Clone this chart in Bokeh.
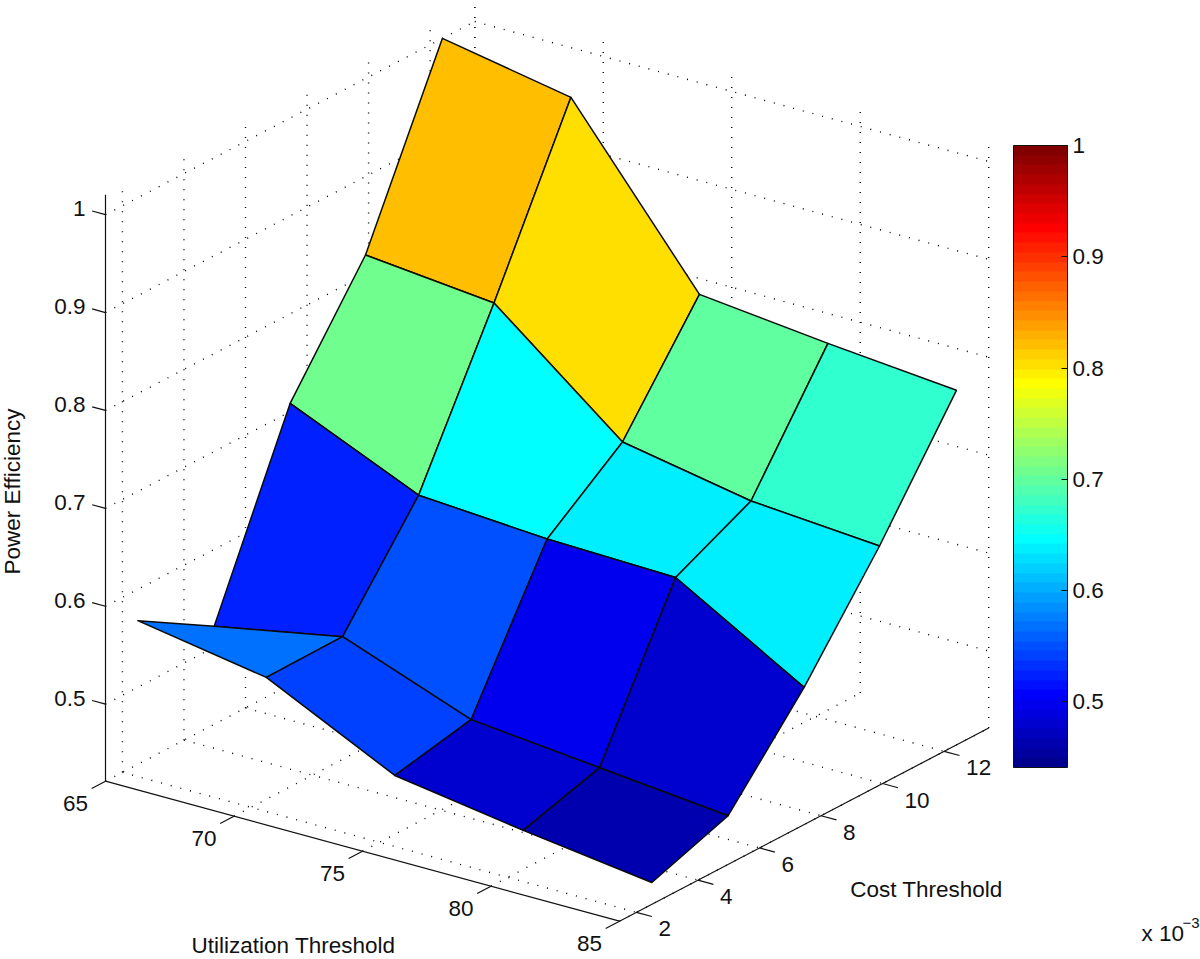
import numpy as np
from bokeh.plotting import figure
from bokeh.embed import file_html
from bokeh.resources import INLINE
from bokeh.core.properties import value
from bokeh.models import ColumnDataSource, ColorBar, LinearColorMapper, FixedTicker

# ---------- data ----------
util_thresholds = [65, 70, 75, 80, 85]
cost_thresholds = [2.5, 4.98, 7.45, 9.9, 12.4]   # x 10^-3
eff_u65 = [0.568, 0.5214, 0.7085, 0.8198, 1.0]
eff_u70 = [0.5458, 0.5466, 0.6505, 0.8065, 0.9755]
eff_u75 = [0.4814, 0.4976, 0.6415, 0.7003, 0.81]
eff_u80 = [0.4610, 0.4843, 0.6380, 0.6758, 0.7957]
eff_u85 = [0.4436, 0.4710, 0.5614, 0.6656, 0.7835]
util_ticks = [65, 70, 75, 80, 85]
cost_ticks = [2, 4, 6, 8, 10, 12]
eff_ticks = [0.5, 0.6, 0.7, 0.8, 0.9, 1.0]
cbar_ticks = [0.5, 0.6, 0.7, 0.8, 0.9, 1.0]

# ---------- view (orthographic projection of the box, page pixels) ----------
U_MIN, U_MAX = 65.0, 85.0
C_MIN, C_MAX = 1.45, 13.45
Z_MIN, Z_MAX = 0.4213, 1.0204
C_LOW, C_HIGH = 0.441, 1.0
X0, Y0 = 105.0, 780.7
UX, UY, CX, CY, ZK = 25.7, 7.0, 30.77, -16.1, 979.0


def px(u, c):
    return X0 + UX * (u - U_MIN) + CX * (c - C_MIN)


def py(u, c, z):
    return Y0 + UY * (u - U_MIN) + CY * (c - C_MIN) - ZK * (z - Z_MIN)


def jet(n=64):
    out = []
    for i in range(1, n + 1):
        t = i / n
        r = min(4 * t - 1.5, -4 * t + 4.5)
        g = min(4 * t - 0.5, -4 * t + 3.5)
        b = min(4 * t + 0.5, -4 * t + 2.5)
        rgb = [int(round(255 * max(0, min(1, k)))) for k in (r, g, b)]
        out.append("#%02x%02x%02x" % tuple(rgb))
    return out


FONT = value("Liberation Sans")
FS = "22.5px"
INK = "#111111"
W, H = 1200, 959

p = figure(width=W, height=H, x_range=(0, W), y_range=(H, 0),
           x_axis_location=None, y_axis_location=None,
           toolbar_location=None, output_backend="svg",
           min_border=0, outline_line_color=None)
p.grid.visible = False

# ---------- dotted grid on floor and two back walls ----------
gx, gy = [], []


def seg(u0, c0, z0, u1, c1, z1):
    gx.append([px(u0, c0), px(u1, c1)])
    gy.append([py(u0, c0, z0), py(u1, c1, z1)])


for u in util_ticks:
    seg(u, C_MIN, Z_MIN, u, C_MAX, Z_MIN)          # floor
    seg(u, C_MAX, Z_MIN, u, C_MAX, Z_MAX)          # back wall vertical
for c in cost_ticks:
    seg(U_MIN, c, Z_MIN, U_MAX, c, Z_MIN)          # floor
    seg(U_MIN, c, Z_MIN, U_MIN, c, Z_MAX)          # left wall vertical
seg(U_MIN, C_MAX, Z_MIN, U_MIN, C_MAX, Z_MAX)
for z in eff_ticks:
    seg(U_MIN, C_MIN, z, U_MIN, C_MAX, z)
    seg(U_MIN, C_MAX, z, U_MAX, C_MAX, z)
p.multi_line(gx, gy, line_color="#000000", line_width=1.4, line_dash="1 9")

# ---------- axis lines and ticks ----------
ax = [[px(U_MIN, C_MIN), px(U_MAX, C_MIN)], [px(U_MAX, C_MIN), px(U_MAX, C_MAX)],
      [px(U_MIN, C_MIN), px(U_MIN, C_MIN)]]
ay = [[py(U_MIN, C_MIN, Z_MIN), py(U_MAX, C_MIN, Z_MIN)],
      [py(U_MAX, C_MIN, Z_MIN), py(U_MAX, C_MAX, Z_MIN)],
      [py(U_MIN, C_MIN, Z_MIN), py(U_MIN, C_MIN, Z_MAX)]]
for u in util_ticks:
    ax.append([px(u, C_MIN), px(u, C_MIN - 0.45)])
    ay.append([py(u, C_MIN, Z_MIN), py(u, C_MIN - 0.45, Z_MIN)])
for c in cost_ticks:
    ax.append([px(U_MAX, c), px(U_MAX + 0.6, c)])
    ay.append([py(U_MAX, c, Z_MIN), py(U_MAX + 0.6, c, Z_MIN)])
for z in eff_ticks:
    ax.append([px(U_MIN, C_MIN), px(U_MIN - 0.52, C_MIN)])
    ay.append([py(U_MIN, C_MIN, z), py(U_MIN - 0.52, C_MIN, z)])
p.multi_line(ax, ay, line_color=INK, line_width=1.2)

# ---------- surface ----------
rows = [eff_u65, eff_u70, eff_u75, eff_u80, eff_u85]
mapper = LinearColorMapper(palette=jet(64), low=C_LOW, high=C_HIGH)
xs, ys, zs = [], [], []
for i in range(len(util_thresholds) - 1):
    for j in range(len(cost_thresholds) - 2, -1, -1):
        corners = [(i, j), (i + 1, j), (i + 1, j + 1), (i, j + 1)]
        xs.append([px(util_thresholds[a], cost_thresholds[b]) for a, b in corners])
        ys.append([py(util_thresholds[a], cost_thresholds[b], rows[a][b]) for a, b in corners])
        zs.append(rows[i][j])
src = ColumnDataSource(dict(xs=xs, ys=ys, z=zs))
p.patches("xs", "ys", source=src, fill_color={"field": "z", "transform": mapper},
          line_color="#0a0a0a", line_width=1.5, line_join="round")

# ---------- tick labels ----------
p.text([px(u, C_MIN) - 30 for u in util_ticks], [py(u, C_MIN, Z_MIN) + 22 for u in util_ticks],
       text=[str(u) for u in util_ticks], text_font=FONT, text_font_size=FS,
       text_align="center", text_baseline="middle", text_color=INK)
p.text([px(U_MAX, c) + 22 for c in cost_ticks], [py(U_MAX, c, Z_MIN) + 16.5 for c in cost_ticks],
       text=[str(c) for c in cost_ticks], text_font=FONT, text_font_size=FS,
       text_align="left", text_baseline="middle", text_color=INK)
p.text([85] * len(eff_ticks), [py(U_MIN, C_MIN, z) - 6 for z in eff_ticks],
       text=["1" if z == 1 else "%.1f" % z for z in eff_ticks], text_font=FONT, text_font_size=FS,
       text_align="right", text_baseline="middle", text_color=INK)

# ---------- axis titles ----------
p.text([293], [945], text=["Utilization Threshold"], text_font=FONT, text_font_size=FS,
       text_align="center", text_baseline="middle", text_color=INK)
p.text([926], [889], text=["Cost Threshold"], text_font=FONT, text_font_size=FS,
       text_align="center", text_baseline="middle", text_color=INK)
p.text([12], [491], text=["Power Efficiency"], angle=[np.pi / 2], text_font=FONT, text_font_size=FS,
       text_align="center", text_baseline="middle", text_color=INK)
p.text([1141], [933], text=["x 10"], text_font=FONT, text_font_size=FS,
       text_align="left", text_baseline="middle", text_color=INK)
p.text([1182], [922], text=["\u22123"], text_font=FONT, text_font_size="15px",
       text_align="left", text_baseline="middle", text_color=INK)

# ---------- colour bar ----------
CB_L, CB_R, CB_T, CB_B = 1013.0, 1067.0, 145.0, 767.0
cb = ColorBar(color_mapper=mapper, ticker=FixedTicker(ticks=cbar_ticks),
              location=(CB_L, H - CB_B), width=int(CB_R - CB_L), height=int(CB_B - CB_T),
              padding=0, margin=0, major_tick_in=6, major_tick_out=0,
              major_tick_line_color=INK, minor_tick_line_color=None,
              bar_line_color=INK, bar_line_width=1,
              label_standoff=5, major_label_text_font="Liberation Sans",
              major_label_text_font_size=FS, major_label_text_color=INK,
              major_label_overrides={1.0: "1"},
              background_fill_alpha=0, border_line_color=None)
p.add_layout(cb, "center")
cby = [CB_B - (v - C_LOW) / (C_HIGH - C_LOW) * (CB_B - CB_T) for v in cbar_ticks[:-1]]
p.segment([CB_L] * len(cby), cby, [CB_L + 6] * len(cby), cby, line_color=INK, line_width=1)

open("out.html", "w").write(file_html(p, INLINE))
